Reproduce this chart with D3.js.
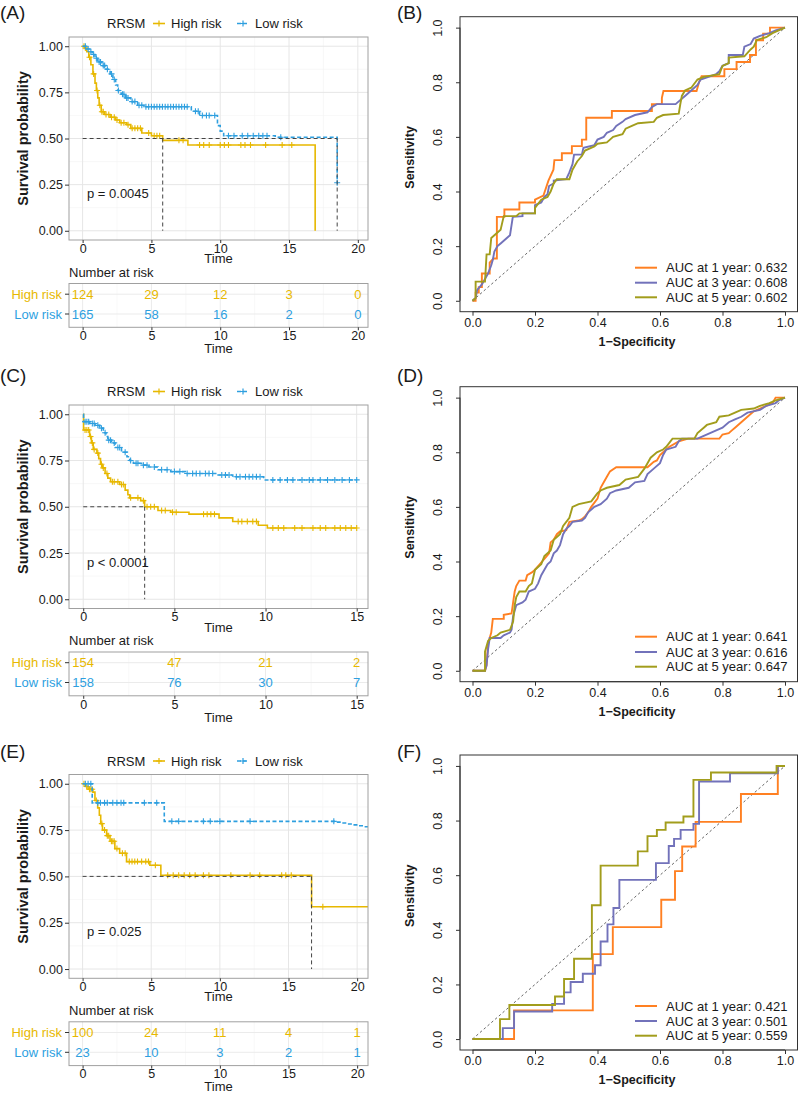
<!DOCTYPE html>
<html><head><meta charset="utf-8">
<script src="https://cdn.jsdelivr.net/npm/d3@7"></script>
<style>body{margin:0;background:#fff} text{font-family:"Liberation Sans",Arial,sans-serif}</style>
</head><body><svg id="c" width="798" height="1096"></svg>
<script>
// ---------------- DATA ----------------
const groups = ["High risk", "Low risk"];
const legendTitle = "RRSM";
const kmTicksY = [0, 0.25, 0.5, 0.75, 1];

// Panel A (KM)
const kmA_high = [[0,1],[0.15,0.99],[0.3,0.97],[0.45,0.94],[0.6,0.9],[0.75,0.85],[0.9,0.8],[1.0,0.76],[1.1,0.72],[1.2,0.68],[1.35,0.645],[1.6,0.63],[2.0,0.615],[2.4,0.6],[2.7,0.585],[3.2,0.575],[3.5,0.555],[4.3,0.53],[5.0,0.515],[5.82,0.49],[7.65,0.465],[16.9,0]];
const kmA_highCens = [0.1,0.2,0.5,0.8,1.05,1.25,1.4,1.5,1.7,1.9,2.1,2.3,2.5,2.8,3.0,3.3,3.6,3.8,4.0,4.2,4.8,5.2,5.4,5.6,7.0,7.3,8.5,8.8,9.2,10.0,10.3,10.6,11.5,11.8,12.2,13.3,14.5,15.2];
const kmA_low = [[0,1],[0.3,0.985],[0.5,0.97],[0.7,0.955],[0.9,0.935],[1.1,0.915],[1.4,0.895],[1.7,0.875],[2.0,0.85],[2.2,0.82],[2.4,0.79],[2.55,0.76],[2.8,0.74],[3.1,0.72],[3.5,0.7],[4.0,0.68],[4.5,0.672],[7.9,0.648],[8.5,0.625],[9.8,0.57],[10.0,0.54],[10.25,0.515],[14.0,0.507],[18.5,0.26]];
const kmA_lowCens = [0.2,0.4,0.6,0.8,1.0,1.2,1.3,1.5,1.6,1.8,2.1,2.3,2.6,2.9,3.0,3.2,3.3,3.6,3.8,4.1,4.3,4.6,4.8,5.0,5.2,5.4,5.6,5.8,6.0,6.2,6.4,6.6,6.8,7.0,7.2,7.4,7.6,8.2,8.4,8.7,9.0,9.2,9.6,10.6,11.0,11.6,12.0,12.4,12.8,13.1,13.4,14.4,18.5];
const kmA_medians = [5.82, 18.5];
const riskTimesA = [0,5,10,15,20];
const riskHighA = [124,29,12,3,0];
const riskLowA = [165,58,16,2,0];
const pA = "p = 0.0045";

// Panel C (KM)
const kmC_high = [[0,1],[0.02,0.915],[0.35,0.88],[0.45,0.845],[0.55,0.81],[0.75,0.79],[0.85,0.76],[0.95,0.73],[1.05,0.71],[1.2,0.68],[1.35,0.655],[1.5,0.635],[2.0,0.62],[2.3,0.59],[2.45,0.565],[2.55,0.548],[3.15,0.533],[3.37,0.5],[4.1,0.48],[4.8,0.47],[5.8,0.46],[7.45,0.44],[8.2,0.42],[9.6,0.4],[10.1,0.385]];
const kmC_highCens = [0.1,0.2,0.3,0.4,0.5,0.6,0.8,1.0,1.1,1.3,1.6,1.7,1.9,2.1,2.2,2.6,3.0,3.3,3.5,3.7,3.9,4.3,4.5,4.9,5.1,6.6,6.8,7.0,7.2,8.5,8.7,9.0,9.3,9.5,10.4,10.7,11.0,11.6,12.0,12.6,13.0,13.3,13.8,14.1,14.4,14.7,15.0];
const kmC_low = [[0,1],[0.02,0.96],[0.35,0.95],[0.65,0.94],[0.9,0.925],[1.1,0.9],[1.25,0.88],[1.35,0.86],[1.55,0.845],[1.75,0.82],[2.1,0.795],[2.4,0.77],[2.55,0.75],[2.75,0.735],[3.2,0.725],[3.6,0.715],[4.1,0.7],[4.8,0.69],[5.6,0.68],[7.4,0.672],[8.2,0.662],[9.9,0.645]];
const kmC_lowCens = [0.1,0.2,0.3,0.5,0.6,0.8,1.0,1.2,1.4,1.5,1.7,1.9,2.0,2.3,2.6,2.9,3.0,3.3,3.5,3.9,4.3,4.6,5.0,5.3,5.7,6.0,6.2,6.4,6.7,6.9,7.1,7.6,7.8,8.0,8.4,8.6,8.9,9.1,9.3,9.5,9.7,10.4,10.8,11.2,11.5,12.0,12.4,12.6,13.0,13.4,13.8,14.2,14.6,15.0];
const kmC_medians = [3.37];
const riskTimesC = [0,5,10,15];
const riskHighC = [154,47,21,2];
const riskLowC = [158,76,30,7];
const pC = "p < 0.0001";

// Panel E (KM)
const kmE_high = [[0,1],[0.2,0.985],[0.4,0.97],[0.75,0.955],[0.9,0.91],[1.1,0.87],[1.22,0.83],[1.32,0.785],[1.45,0.75],[1.75,0.72],[2.0,0.69],[2.35,0.65],[2.7,0.625],[3.2,0.58],[4.9,0.56],[5.7,0.506],[16.68,0.336]];
const kmE_highCens = [0.1,0.3,0.5,0.6,0.7,1.0,1.4,1.6,1.8,1.9,2.1,2.2,2.3,2.5,2.9,3.1,3.4,3.6,3.8,4.0,4.3,4.6,4.8,5.3,6.2,6.6,7.0,7.4,7.8,8.2,8.8,9.2,10.8,12.2,12.9,14.5,14.8,15.2,17.5];
const kmE_low = [[0,1],[0.7,0.897],[5.95,0.797],[18.5,0.793],[18.9,0.788],[19.3,0.783],[19.7,0.778],[20.1,0.773],[20.5,0.768]];
const kmE_lowCens = [0.2,0.4,0.6,1.1,1.3,1.6,1.8,2.2,2.5,2.8,3.0,4.5,5.4,6.5,7.0,8.8,9.3,10.0,12.2,18.3];
const kmE_medians = [16.68];
const riskTimesE = [0,5,10,15,20];
const riskHighE = [100,24,11,4,1];
const riskLowE = [23,10,3,2,1];
const pE = "p = 0.025";

// ROC panels
const rocYears = [1,3,5];
const rocTicks = [0,0.2,0.4,0.6,0.8,1.0];
const aucB = [0.632,0.608,0.602];
const aucD = [0.641,0.616,0.647];
const aucF = [0.421,0.501,0.559];
const rocB1 = [[0,0],[0.01,0],[0.01,0.03],[0.02,0.03],[0.02,0.05],[0.03,0.05],[0.03,0.1],[0.055,0.1],[0.055,0.14],[0.067,0.155],[0.078,0.155],[0.078,0.307],[0.102,0.307],[0.102,0.334],[0.15,0.334],[0.15,0.36],[0.2,0.36],[0.2,0.37],[0.227,0.385],[0.243,0.44],[0.259,0.48],[0.262,0.515],[0.286,0.515],[0.286,0.54],[0.318,0.54],[0.318,0.566],[0.35,0.566],[0.35,0.59],[0.364,0.59],[0.364,0.67],[0.446,0.67],[0.446,0.695],[0.574,0.695],[0.574,0.72],[0.606,0.72],[0.606,0.743],[0.611,0.768],[0.717,0.768],[0.725,0.8],[0.733,0.822],[0.806,0.822],[0.806,0.848],[0.845,0.848],[0.845,0.874],[0.888,0.874],[0.888,0.9],[0.907,0.9],[0.907,0.954],[0.93,0.954],[0.93,0.978],[0.952,0.978],[0.952,1.0],[1,1]];
const rocB3 = [[0,0],[0.01,0.01],[0.015,0.04],[0.03,0.06],[0.04,0.08],[0.05,0.1],[0.06,0.13],[0.065,0.15],[0.07,0.18],[0.08,0.2],[0.09,0.21],[0.1,0.22],[0.11,0.23],[0.12,0.24],[0.129,0.307],[0.16,0.31],[0.16,0.32],[0.2,0.32],[0.2,0.35],[0.22,0.36],[0.23,0.38],[0.24,0.39],[0.245,0.42],[0.26,0.43],[0.26,0.44],[0.3,0.445],[0.31,0.47],[0.32,0.5],[0.325,0.535],[0.35,0.535],[0.355,0.56],[0.39,0.57],[0.4,0.59],[0.42,0.6],[0.43,0.615],[0.45,0.625],[0.46,0.64],[0.48,0.655],[0.49,0.665],[0.52,0.68],[0.56,0.69],[0.575,0.71],[0.59,0.72],[0.65,0.72],[0.66,0.73],[0.68,0.75],[0.7,0.77],[0.72,0.79],[0.73,0.81],[0.78,0.83],[0.79,0.84],[0.8,0.86],[0.82,0.87],[0.82,0.9],[0.865,0.9],[0.87,0.93],[0.89,0.94],[0.9,0.96],[0.92,0.97],[0.95,0.98],[0.97,0.99],[1,1]];
const rocB5 = [[0,0],[0.01,0.01],[0.01,0.07],[0.04,0.07],[0.045,0.17],[0.055,0.17],[0.06,0.23],[0.07,0.24],[0.08,0.25],[0.09,0.26],[0.1,0.31],[0.14,0.31],[0.15,0.32],[0.2,0.32],[0.2,0.34],[0.22,0.37],[0.24,0.38],[0.25,0.4],[0.26,0.43],[0.27,0.445],[0.31,0.445],[0.32,0.48],[0.335,0.51],[0.35,0.53],[0.36,0.55],[0.39,0.565],[0.4,0.575],[0.43,0.58],[0.44,0.59],[0.45,0.6],[0.48,0.61],[0.49,0.63],[0.51,0.64],[0.53,0.65],[0.58,0.655],[0.59,0.67],[0.61,0.68],[0.66,0.685],[0.665,0.72],[0.67,0.75],[0.68,0.77],[0.7,0.78],[0.72,0.81],[0.74,0.82],[0.79,0.83],[0.8,0.86],[0.82,0.87],[0.82,0.89],[0.87,0.895],[0.89,0.92],[0.9,0.93],[0.91,0.955],[0.94,0.965],[0.96,0.98],[0.98,0.99],[1,1]];
const rocD1 = [[0,0],[0.04,0],[0.045,0.02],[0.05,0.1],[0.055,0.12],[0.06,0.14],[0.065,0.19],[0.1,0.19],[0.1,0.205],[0.125,0.21],[0.13,0.25],[0.135,0.29],[0.14,0.31],[0.15,0.33],[0.17,0.33],[0.175,0.35],[0.19,0.36],[0.2,0.37],[0.215,0.39],[0.23,0.41],[0.245,0.43],[0.25,0.47],[0.26,0.48],[0.27,0.5],[0.28,0.51],[0.3,0.515],[0.31,0.545],[0.34,0.55],[0.35,0.555],[0.36,0.565],[0.37,0.58],[0.38,0.6],[0.4,0.63],[0.41,0.67],[0.42,0.69],[0.43,0.71],[0.44,0.73],[0.46,0.745],[0.56,0.745],[0.58,0.765],[0.59,0.77],[0.6,0.79],[0.61,0.8],[0.63,0.82],[0.66,0.84],[0.69,0.85],[0.79,0.85],[0.8,0.865],[0.82,0.87],[0.83,0.88],[0.84,0.89],[0.86,0.91],[0.88,0.93],[0.9,0.95],[0.92,0.96],[0.94,0.97],[0.96,0.98],[0.97,1.0],[1,1]];
const rocD3 = [[0,0],[0.04,0],[0.045,0.02],[0.05,0.08],[0.055,0.12],[0.09,0.12],[0.1,0.13],[0.12,0.14],[0.125,0.15],[0.13,0.2],[0.14,0.24],[0.16,0.25],[0.17,0.26],[0.18,0.29],[0.2,0.3],[0.21,0.32],[0.22,0.35],[0.23,0.37],[0.24,0.39],[0.25,0.4],[0.26,0.43],[0.27,0.44],[0.28,0.46],[0.29,0.5],[0.3,0.52],[0.31,0.53],[0.32,0.545],[0.35,0.55],[0.36,0.56],[0.37,0.58],[0.39,0.6],[0.41,0.61],[0.43,0.63],[0.44,0.65],[0.46,0.66],[0.5,0.67],[0.52,0.69],[0.55,0.695],[0.56,0.72],[0.58,0.74],[0.6,0.76],[0.61,0.79],[0.62,0.81],[0.65,0.82],[0.66,0.84],[0.67,0.85],[0.72,0.85],[0.74,0.86],[0.76,0.87],[0.78,0.88],[0.8,0.89],[0.82,0.91],[0.84,0.92],[0.86,0.93],[0.88,0.945],[0.92,0.955],[0.94,0.97],[0.97,0.98],[0.98,0.99],[1,1]];
const rocD5 = [[0,0],[0.04,0],[0.04,0.07],[0.05,0.11],[0.06,0.12],[0.08,0.13],[0.09,0.14],[0.12,0.15],[0.13,0.18],[0.135,0.24],[0.14,0.27],[0.15,0.29],[0.17,0.29],[0.18,0.31],[0.19,0.32],[0.2,0.37],[0.22,0.39],[0.23,0.42],[0.25,0.44],[0.26,0.48],[0.28,0.5],[0.29,0.53],[0.31,0.56],[0.32,0.6],[0.34,0.61],[0.38,0.62],[0.4,0.65],[0.41,0.66],[0.43,0.67],[0.47,0.68],[0.49,0.7],[0.53,0.71],[0.55,0.74],[0.56,0.76],[0.57,0.78],[0.59,0.8],[0.61,0.81],[0.62,0.82],[0.64,0.85],[0.71,0.85],[0.72,0.87],[0.74,0.89],[0.75,0.9],[0.78,0.91],[0.79,0.93],[0.82,0.935],[0.84,0.945],[0.86,0.955],[0.9,0.96],[0.92,0.97],[0.95,0.98],[0.97,0.99],[1,1]];
const rocF1 = [[0,0],[0.133,0],[0.133,0.105],[0.385,0.105],[0.385,0.311],[0.449,0.311],[0.449,0.41],[0.604,0.41],[0.604,0.51],[0.648,0.51],[0.648,0.615],[0.671,0.615],[0.671,0.705],[0.714,0.705],[0.714,0.795],[0.859,0.795],[0.859,0.897],[0.977,0.897],[0.977,1.0],[1,1]];
const rocF3 = [[0,0],[0.097,0],[0.097,0.04],[0.133,0.04],[0.133,0.101],[0.255,0.101],[0.255,0.129],[0.293,0.129],[0.293,0.171],[0.314,0.171],[0.314,0.209],[0.353,0.209],[0.353,0.239],[0.392,0.239],[0.392,0.27],[0.41,0.27],[0.41,0.357],[0.432,0.357],[0.432,0.42],[0.451,0.42],[0.451,0.48],[0.47,0.48],[0.47,0.583],[0.587,0.583],[0.587,0.644],[0.628,0.644],[0.628,0.707],[0.645,0.707],[0.645,0.733],[0.666,0.733],[0.666,0.766],[0.707,0.766],[0.707,0.788],[0.725,0.788],[0.725,0.943],[0.824,0.943],[0.824,0.973],[0.977,0.973],[0.977,1.0],[1,1]];
const rocF5 = [[0,0],[0.088,0],[0.088,0.073],[0.118,0.073],[0.118,0.125],[0.264,0.125],[0.264,0.156],[0.293,0.156],[0.293,0.22],[0.325,0.22],[0.325,0.294],[0.382,0.294],[0.382,0.49],[0.41,0.49],[0.41,0.635],[0.529,0.635],[0.529,0.687],[0.56,0.687],[0.56,0.743],[0.59,0.743],[0.59,0.766],[0.618,0.766],[0.618,0.793],[0.675,0.793],[0.675,0.815],[0.707,0.815],[0.707,0.949],[0.763,0.949],[0.763,0.976],[0.973,0.976],[0.973,1.0],[1,1]];

// ---------------- STYLE ----------------
const GOLD = "#E7B800", BLUE = "#2E9FDF";
const ROCCOL = ["#FF8022", "#7272BA", "#A29D1C"];
const TXT = "#1a1a1a";
const svg = d3.select("#c");

function label(g, x, y, s, size, opts = {}) {
  return g.append("text").attr("x", x).attr("y", y).text(s)
    .attr("font-size", size).attr("fill", opts.fill || TXT)
    .attr("text-anchor", opts.anchor || "start")
    .attr("dominant-baseline", "central")
    .attr("font-weight", opts.bold ? "bold" : "normal");
}

function survAt(steps, t) {
  let s = steps[0][1];
  for (const d of steps) { if (d[0] <= t) s = d[1]; }
  return s;
}

let clipId = 0;
function kmPanel(o) {
  const g = svg.append("g");
  const L = 69, R = 368;
  const x = d3.scaleLinear().domain(o.xDomain).range([L, R]);
  const y = d3.scaleLinear().domain([-0.05, 1.05]).range([o.bottom, o.top]);
  const ticks = o.riskTimes;
  const minorX = ticks.slice(0, -1).map((t, i) => (t + ticks[i + 1]) / 2).concat([ticks[ticks.length-1] + 2.5]).filter(v => v < o.xDomain[1]);
  const minorY = [0.125, 0.375, 0.625, 0.875];

  label(g, o.labX, o.labY, o.tag, 19);

  // legend
  const ly = o.top - 13.5;
  label(g, 107, ly, legendTitle, 13);
  g.append("line").attr("x1", 153).attr("x2", 165).attr("y1", ly).attr("y2", ly).attr("stroke", GOLD).attr("stroke-width", 1.6);
  g.append("path").attr("d", "M-3,0H3M0,-3V3").attr("transform", `translate(159,${ly})`).attr("stroke", GOLD).attr("stroke-width", 1.2);
  label(g, 171, ly, groups[0], 13);
  g.append("line").attr("x1", 237).attr("x2", 249).attr("y1", ly).attr("y2", ly).attr("stroke", BLUE).attr("stroke-width", 1.6).attr("stroke-dasharray", "4,2");
  g.append("path").attr("d", "M-3,0H3M0,-3V3").attr("transform", `translate(243,${ly})`).attr("stroke", BLUE).attr("stroke-width", 1.2);
  label(g, 255, ly, groups[1], 13);

  // grid
  const grid = g.append("g");
  minorX.forEach(v => grid.append("line").attr("x1", x(v)).attr("x2", x(v)).attr("y1", o.top).attr("y2", o.bottom).attr("stroke", "#F3F3F3").attr("stroke-width", 0.6));
  minorY.forEach(v => grid.append("line").attr("x1", L).attr("x2", R).attr("y1", y(v)).attr("y2", y(v)).attr("stroke", "#F3F3F3").attr("stroke-width", 0.6));
  ticks.forEach(v => grid.append("line").attr("x1", x(v)).attr("x2", x(v)).attr("y1", o.top).attr("y2", o.bottom).attr("stroke", "#E6E6E6").attr("stroke-width", 1));
  kmTicksY.forEach(v => grid.append("line").attr("x1", L).attr("x2", R).attr("y1", y(v)).attr("y2", y(v)).attr("stroke", "#E6E6E6").attr("stroke-width", 1));

  // clip
  const cid = "clip" + (clipId++);
  g.append("clipPath").attr("id", cid).append("rect").attr("x", L).attr("y", o.top).attr("width", R - L).attr("height", o.bottom - o.top);
  const plot = g.append("g").attr("clip-path", `url(#${cid})`);

  const line = d3.line().x(d => x(d[0])).y(d => y(d[1])).curve(d3.curveStepAfter);
  const curves = [
    {steps: o.high, cens: o.highCens, end: o.highEnd, col: GOLD, dash: null},
    {steps: o.low, cens: o.lowCens, end: o.lowEnd, col: BLUE, dash: "4,2.5"}
  ];
  curves.forEach(c => {
    const pts = c.steps.slice();
    const last = pts[pts.length - 1];
    if (c.end > last[0]) pts.push([c.end, last[1]]);
    plot.append("path").attr("d", line(pts)).attr("fill", "none").attr("stroke", c.col)
      .attr("stroke-width", 1.6).attr("stroke-dasharray", c.dash);
    c.cens.forEach(t => {
      plot.append("path").attr("d", "M-3,0H3M0,-3V3")
        .attr("transform", `translate(${x(t)},${y(survAt(c.steps, t))})`)
        .attr("stroke", c.col).attr("stroke-width", 1.1);
    });
  });

  // median lines
  const maxMed = d3.max(o.medians);
  plot.append("line").attr("x1", x(0)).attr("x2", x(maxMed)).attr("y1", y(0.5)).attr("y2", y(0.5))
    .attr("stroke", "#444").attr("stroke-width", 1).attr("stroke-dasharray", "4,3");
  o.medians.forEach(m => plot.append("line").attr("x1", x(m)).attr("x2", x(m)).attr("y1", y(0.5)).attr("y2", y(0))
    .attr("stroke", "#444").attr("stroke-width", 1).attr("stroke-dasharray", "4,3"));

  // border
  g.append("rect").attr("x", L).attr("y", o.top).attr("width", R - L).attr("height", o.bottom - o.top)
    .attr("fill", "none").attr("stroke", "#A0A0A0").attr("stroke-width", 1);

  // axes
  const ya = g.append("g").attr("transform", `translate(${L},0)`)
    .call(d3.axisLeft(y).tickValues(kmTicksY).tickFormat(d3.format(".2f")).tickSize(4).tickPadding(2));
  ya.select(".domain").remove();
  ya.selectAll("line").attr("stroke", "#333");
  ya.selectAll("text").attr("font-size", 12.5).attr("fill", TXT).attr("font-family", null);

  const xa = g.append("g").attr("transform", `translate(0,${o.bottom})`)
    .call(d3.axisBottom(x).tickValues(ticks).tickFormat(d3.format("d")).tickSize(3).tickPadding(1));
  xa.select(".domain").remove();
  xa.selectAll("line").attr("stroke", "#333");
  xa.selectAll("text").attr("font-size", 12.5).attr("fill", TXT).attr("font-family", null);

  label(g, 23, (o.top + o.bottom) / 2, "Survival probability", 14.5, {bold: true, anchor: "middle"})
    .attr("transform", `rotate(-90,23,${(o.top + o.bottom) / 2})`);
  label(g, (L + R) / 2, o.bottom + 18.5, "Time", 13, {anchor: "middle"});

  // p-value
  label(g, 87, y(0.2), o.p, 13);

  // risk table
  const tTop = o.bottom + 43.5, tBot = o.bottom + 87.3;
  const rows = [o.bottom + 54.2, o.bottom + 74];
  label(g, L, o.bottom + 32, "Number at risk", 13);
  minorX.forEach(v => g.append("line").attr("x1", x(v)).attr("x2", x(v)).attr("y1", tTop).attr("y2", tBot).attr("stroke", "#F3F3F3").attr("stroke-width", 0.6));
  ticks.forEach(v => g.append("line").attr("x1", x(v)).attr("x2", x(v)).attr("y1", tTop).attr("y2", tBot).attr("stroke", "#EBEBEB").attr("stroke-width", 1));
  rows.forEach(r => g.append("line").attr("x1", L).attr("x2", R).attr("y1", r).attr("y2", r).attr("stroke", "#EBEBEB").attr("stroke-width", 1));
  g.append("rect").attr("x", L).attr("y", tTop).attr("width", R - L).attr("height", tBot - tTop)
    .attr("fill", "none").attr("stroke", "#A0A0A0").attr("stroke-width", 1);
  const cols = [GOLD, BLUE];
  const vals = [o.riskHigh, o.riskLow];
  rows.forEach((r, i) => {
    g.append("line").attr("x1", L - 4).attr("x2", L).attr("y1", r).attr("y2", r).attr("stroke", "#333");
    label(g, 62, r, groups[i], 13, {anchor: "end", fill: cols[i]});
    vals[i].forEach((v, j) => label(g, x(ticks[j]), r, String(v), 13, {anchor: "middle", fill: cols[i]}));
  });
  const xa2 = g.append("g").attr("transform", `translate(0,${tBot})`)
    .call(d3.axisBottom(x).tickValues(ticks).tickFormat(d3.format("d")).tickSize(3).tickPadding(1));
  xa2.select(".domain").remove();
  xa2.selectAll("line").attr("stroke", "#333");
  xa2.selectAll("text").attr("font-size", 12.5).attr("fill", TXT).attr("font-family", null);
  label(g, (L + R) / 2, o.bottom + 108.5, "Time", 13, {anchor: "middle"});
}

function rocPanel(o) {
  const g = svg.append("g");
  const x = d3.scaleLinear().domain([-0.04, 1.04]).range([460, 797.5]);
  const y = d3.scaleLinear().domain([-0.04, 1.04]).range([o.bottom, o.top]);
  label(g, 397, o.labY, o.tag, 19);

  const line = d3.line().x(d => x(d[0])).y(d => y(d[1]));
  g.append("line").attr("x1", x(0)).attr("y1", y(0)).attr("x2", x(1)).attr("y2", y(1))
    .attr("stroke", "#555").attr("stroke-width", 0.9).attr("stroke-dasharray", "2.5,2.5");
  o.curves.forEach((c, i) => {
    g.append("path").attr("d", line(c)).attr("fill", "none").attr("stroke", ROCCOL[i]).attr("stroke-width", 1.9);
  });
  g.append("rect").attr("x", 460).attr("y", o.top).attr("width", 337.5).attr("height", o.bottom - o.top)
    .attr("fill", "none").attr("stroke", "#333").attr("stroke-width", 1);

  const xa = g.append("g").attr("transform", `translate(0,${o.bottom})`)
    .call(d3.axisBottom(x).tickValues(rocTicks).tickFormat(d3.format(".1f")).tickSize(4).tickPadding(2));
  xa.select(".domain").attr("d", `M${x(0)},0H${x(1)}`).attr("stroke", "#333");
  xa.selectAll("line").attr("stroke", "#333");
  xa.selectAll("text").attr("font-size", 12.5).attr("fill", TXT).attr("font-family", null);

  const ya = g.append("g").attr("transform", `translate(460,0)`)
    .call(d3.axisLeft(y).tickValues(rocTicks).tickFormat(d3.format(".1f")).tickSize(4));
  ya.select(".domain").attr("d", `M0,${y(0)}V${y(1)}`).attr("stroke", "#333");
  ya.selectAll("line").attr("stroke", "#333");
  ya.selectAll("text").attr("font-size", 12.5).attr("fill", TXT).attr("font-family", null)
    .attr("x", 0).attr("y", -22).attr("dy", "0.35em").attr("text-anchor", "middle").attr("transform", "rotate(-90)");

  label(g, 410, (o.top + o.bottom) / 2 - 6.8, "Sensitivity", 12.5, {bold: true, anchor: "middle"})
    .attr("transform", `rotate(-90,410,${(o.top + o.bottom) / 2 - 6.8})`);
  label(g, 637, o.bottom + 30, "1\u2212Specificity", 12.5, {bold: true, anchor: "middle"});

  o.auc.forEach((a, i) => {
    const ry = o.legY[i];
    g.append("line").attr("x1", 635).attr("x2", 657).attr("y1", ry).attr("y2", ry).attr("stroke", ROCCOL[i]).attr("stroke-width", 2);
    label(g, 666, ry, `AUC at ${rocYears[i]} year: ${a.toFixed(3)}`, 13);
  });
}

kmPanel({tag: "(A)", labX: 0, labY: 12, top: 37, bottom: 240, xDomain: [-0.99, 20.74],
  high: kmA_high, highCens: kmA_highCens, highEnd: 16.9, low: kmA_low, lowCens: kmA_lowCens, lowEnd: 18.5,
  medians: kmA_medians, riskTimes: riskTimesA, riskHigh: riskHighA, riskLow: riskLowA, p: pA});
kmPanel({tag: "(C)", labX: 0, labY: 375, top: 405, bottom: 608.5, xDomain: [-0.78, 15.62],
  high: kmC_high, highCens: kmC_highCens, highEnd: 15, low: kmC_low, lowCens: kmC_lowCens, lowEnd: 15,
  medians: kmC_medians, riskTimes: riskTimesC, riskHigh: riskHighC, riskLow: riskLowC, p: pC});
kmPanel({tag: "(E)", labX: 0, labY: 751.7, top: 774.5, bottom: 978.3, xDomain: [-0.99, 20.79],
  high: kmE_high, highCens: kmE_highCens, highEnd: 21, low: kmE_low, lowCens: kmE_lowCens, lowEnd: 21,
  medians: kmE_medians, riskTimes: riskTimesE, riskHigh: riskHighE, riskLow: riskLowE, p: pE});

rocPanel({tag: "(B)", labY: 12, top: 16.7, bottom: 311.7, curves: [rocB1, rocB3, rocB5], auc: aucB, legY: [267.7, 282.7, 297.3]});
rocPanel({tag: "(D)", labY: 375, top: 386.7, bottom: 681.7, curves: [rocD1, rocD3, rocD5], auc: aucD, legY: [636.7, 652, 666.7]});
rocPanel({tag: "(F)", labY: 751.7, top: 755, bottom: 1050, curves: [rocF1, rocF3, rocF5], auc: aucF, legY: [1006, 1021, 1035.7]});
</script></body></html>
